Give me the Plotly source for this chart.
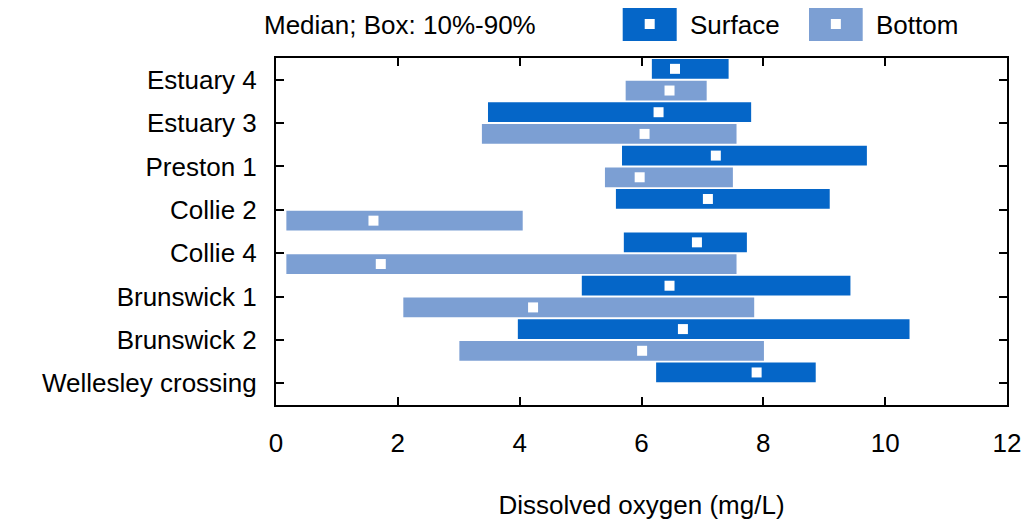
import plotly.graph_objects as go
import numpy as np

sites = ["Estuary 4", "Estuary 3", "Preston 1", "Collie 2", "Collie 4",
         "Brunswick 1", "Brunswick 2", "Wellesley crossing"]

surf_p10 = [6.17, 3.48, 5.68, 5.58, 5.71, 5.02, 3.97, 6.24]
surf_p90 = [7.43, 7.80, 9.70, 9.09, 7.73, 9.43, 10.40, 8.86]
surf_med = [6.55, 6.28, 7.22, 7.09, 6.91, 6.46, 6.68, 7.89]

bot_p10 = [5.74, 3.38, 5.40, 0.17, 0.17, 2.09, 3.01, None]
bot_p90 = [7.07, 7.56, 7.50, 4.05, 7.56, 7.85, 8.01, None]
bot_med = [6.46, 6.05, 5.97, 1.60, 1.72, 4.22, 6.01, None]

x_ticks = [0, 2, 4, 6, 8, 10, 12]

C_SURF = "#0566C8"
C_BOT = "#7C9FD3"
FONT = "Liberation Sans, Arial, sans-serif"
FS = 26


def span(lo, hi):
    return [None if (a is None or b is None) else b - a for a, b in zip(lo, hi)]


fig = go.Figure()
fig.add_trace(go.Bar(y=sites, x=span(surf_p10, surf_p90), base=surf_p10,
                     orientation="h", marker=dict(color=C_SURF, line=dict(width=0)),
                     offsetgroup="s", name="Surface", showlegend=False))
fig.add_trace(go.Bar(y=sites, x=span(bot_p10, bot_p90), base=bot_p10,
                     orientation="h", marker=dict(color=C_BOT, line=dict(width=0)),
                     offsetgroup="b", name="Bottom", showlegend=False))
fig.add_trace(go.Scatter(y=sites, x=surf_med, mode="markers", orientation="h",
                         offsetgroup="s", marker=dict(symbol="square", size=10, color="white",
                                                      line=dict(width=0)),
                         showlegend=False))
fig.add_trace(go.Scatter(y=sites, x=bot_med, mode="markers", orientation="h",
                         offsetgroup="b", marker=dict(symbol="square", size=10, color="white",
                                                      line=dict(width=0)),
                         showlegend=False))

L, R, T, B = 276, 1007, 58, 405
PW, PH = R - L, B - T

shapes = []
annotations = []
# manual legend
for x0, x1, col, label, tx in [(622.7, 676.7, C_SURF, "Surface", 688),
                                (809, 862.7, C_BOT, "Bottom", 874)]:
    shapes.append(dict(type="rect", xref="paper", yref="paper",
                       x0=(x0 - L) / PW, x1=(x1 - L) / PW,
                       y0=(B - 41) / PH, y1=(B - 8) / PH,
                       fillcolor=col, line=dict(width=0)))
    cx = (x0 + x1) / 2
    shapes.append(dict(type="rect", xref="paper", yref="paper",
                       x0=(cx - 5 - L) / PW, x1=(cx + 5 - L) / PW,
                       y0=(B - 29) / PH, y1=(B - 19) / PH,
                       fillcolor="white", line=dict(width=0)))
    annotations.append(dict(text=label, xref="paper", yref="paper",
                            x=(tx - L) / PW, y=(B - 25) / PH,
                            xanchor="left", yanchor="middle", showarrow=False,
                            font=dict(family=FONT, size=FS, color="black")))
annotations.append(dict(text="Median; Box: 10%-90%", xref="paper", yref="paper",
                        x=(400 - L) / PW, y=(B - 25) / PH,
                        xanchor="center", yanchor="middle", showarrow=False,
                        font=dict(family=FONT, size=FS, color="black")))

fig.update_layout(
    template="none",
    width=1024, height=522,
    margin=dict(l=L, r=1024 - R, t=T, b=522 - B, autoexpand=False),
    paper_bgcolor="white", plot_bgcolor="white",
    barmode="group", bargap=0.0, bargroupgap=0.09,
    scattermode="group", scattergap=0.0,
    font=dict(family=FONT, size=FS, color="black"),
    shapes=shapes, annotations=annotations,
    showlegend=False,
)
fig.update_xaxes(range=[0, 12], tickvals=x_ticks, ticktext=[str(v) for v in x_ticks],
                 showgrid=False, zeroline=False, automargin=False,
                 showline=True, linecolor="black", linewidth=2, mirror="ticks",
                 ticks="inside", ticklen=8, tickwidth=2, tickcolor="black",
                 ticklabelstandoff=14,
                 title=dict(text="Dissolved oxygen (mg/L)", standoff=39,
                            font=dict(family=FONT, size=FS, color="black")))
fig.update_yaxes(type="category", categoryorder="array", categoryarray=sites,
                 range=[len(sites) - 0.5, -0.5],
                 showgrid=False, zeroline=False, automargin=False,
                 showline=True, linecolor="black", linewidth=2, mirror="ticks",
                 ticks="inside", ticklen=8, tickwidth=2, tickcolor="black",
                 ticklabelstandoff=12)

fig.write_html("out.html", config={"displayModeBar": False},
               post_script="document.body.style.margin='0';document.body.style.overflow='hidden';")
